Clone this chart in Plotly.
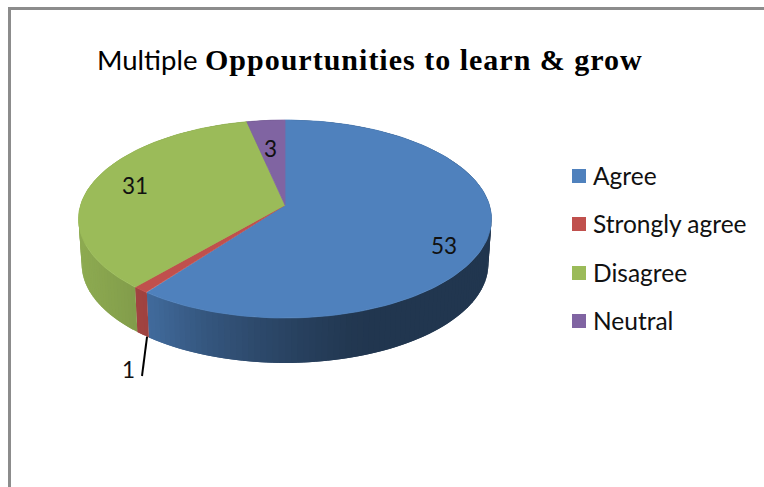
import numpy as np
import plotly.graph_objects as go

categories = ["Agree", "Strongly agree", "Disagree", "Neutral"]
values = [53, 1, 31, 3]
colors = ["#4F81BD", "#C0504D", "#9BBB59", "#8064A2"]
label_xy = [(444, 245), (135, 185), (270, 148), (128, 369)]
label_order = ["53", "31", "3", "1"]
legend_y = [176, 224, 273, 321]

# pie geometry in page pixels (perspective disc, apex is not the ellipse centre)
CX, CY = 285, 205
A, B, K = 204.4, 97.0, -0.1414
DEPTH, BOTTOM_SCALE = 45, 0.985
SHADE_X = [80, 150, 200, 250, 300, 350, 370]
SHADE = [0.91, 0.82, 0.68, 0.58, 0.50, 0.43, 0.42]


def rim(deg, bottom=False):
    t = np.radians(deg)
    u, v = np.sin(t), -np.cos(t)
    w = 1 + K * v
    if bottom:
        return CX + BOTTOM_SCALE * A * u / w, CY + B * v / w + DEPTH
    return CX + A * u / w, CY + B * v / w


def rgb(hex_color, f=1.0):
    r, g, b = (int(hex_color[i:i + 2], 16) for i in (1, 3, 5))
    return f"rgb({r * f:.0f},{g * f:.0f},{b * f:.0f})"


fig = go.Figure()

total = sum(values)
edges = np.concatenate([[0], np.cumsum(values) / total * 360])

# side wall first, in thin strips so the shading can follow x
# strips overlap the next one a little, so no seams show through
for i, color in enumerate(colors):
    steps = np.arange(edges[i], edges[i + 1], 1.5).tolist()
    for a0 in steps:
        a1 = min(a0 + 3.0, edges[i + 1])
        arc = np.linspace(a0, a1, 5)
        xt, yt = rim(arc)
        xb, yb = rim(arc[::-1], True)
        shade = rgb(color, float(np.interp(rim(a0 + 0.75)[0], SHADE_X, SHADE)))
        fig.add_trace(go.Scatter(
            x=[*xt, *xb, xt[0]], y=[*yt, *yb, yt[0]],
            mode="lines", fill="toself", fillcolor=shade,
            line=dict(width=0),
            hoverinfo="skip", showlegend=False,
        ))

# top face
for i, color in enumerate(colors):
    angles = np.linspace(edges[i], edges[i + 1], 120)
    xs, ys = rim(angles)
    fig.add_trace(go.Scatter(
        x=[CX, *xs, CX], y=[CY, *ys, CY],
        mode="lines", fill="toself", fillcolor=color,
        line=dict(color=color, width=0.8),
        name=categories[i], hoverinfo="skip", showlegend=False,
    ))

# leader line for the smallest slice
lx, ly = rim((edges[1] + edges[2]) / 2 - 1.4, True)
fig.add_trace(go.Scatter(
    x=[lx, 142], y=[ly, 376], mode="lines",
    line=dict(color="#000000", width=2),
    hoverinfo="skip", showlegend=False,
))

# legend swatches and names
fig.add_trace(go.Scatter(
    x=[579] * len(categories), y=legend_y, mode="markers",
    marker=dict(symbol="square", size=14, color=colors),
    text=categories, hoverinfo="text", showlegend=False,
))
for name, y in zip(categories, legend_y):
    fig.add_annotation(
        x=593, y=y, text=name, showarrow=False, xanchor="left", xshift=-2, yshift=1,
        font=dict(family="Lato", size=24.5, color="#111111"),
    )

for text, (x, y) in zip(label_order, label_xy):
    fig.add_annotation(
        x=x, y=y, text=text, showarrow=False,
        font=dict(family="Lato", size=22.5, color="#111111"),
    )

fig.add_shape(type="line", x0=9.5, x1=9.5, y0=8, y1=487, line=dict(color="#8c8c8c", width=3))
fig.add_shape(type="line", x0=8, x1=764, y0=8.5, y1=8.5, line=dict(color="#8c8c8c", width=3))

fig.update_layout(
    width=764, height=487,
    margin=dict(l=0, r=0, t=0, b=0),
    paper_bgcolor="white", plot_bgcolor="white",
    title=dict(
        text='<span style="font-family:Lato;font-size:27.5px">Multiple</span>'
             ' <span style="letter-spacing:1px"><b>Oppourtunities to learn &amp; grow</b></span>',
        font=dict(family="Liberation Serif", size=30, color="#000000"),
        x=97 / 764, xanchor="left", xref="paper",
        y=1 - 59 / 487, yanchor="middle", yref="paper",
    ),
    xaxis=dict(range=[0, 764], visible=False, fixedrange=True),
    yaxis=dict(range=[487, 0], visible=False, fixedrange=True),
)

fig.write_html("out.html", config={"displayModeBar": False},
               post_script="document.body.style.margin='0'")
